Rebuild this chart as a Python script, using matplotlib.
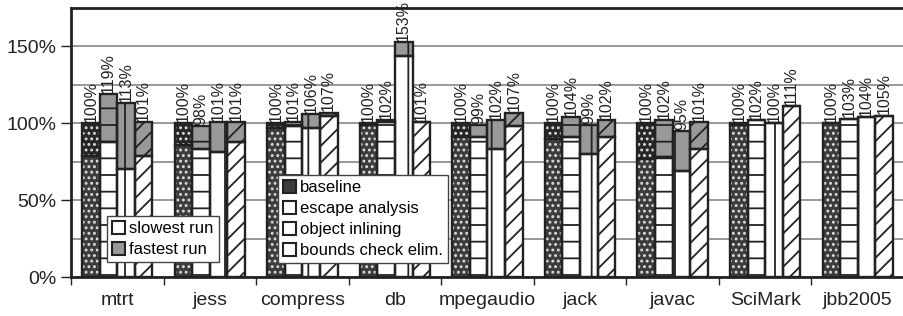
import numpy as np
import matplotlib
matplotlib.use("Agg")
import matplotlib.pyplot as plt
from matplotlib.patches import Patch

plt.rcParams['font.family'] = ['Liberation Sans', 'DejaVu Sans']
plt.rcParams['hatch.linewidth'] = 1.3

# данные: категории и значения (в процентах)
categories = ['mtrt', 'jess', 'compress', 'db', 'mpegaudio', 'jack', 'javac', 'SciMark', 'jbb2005']
series_names = ['baseline', 'escape analysis', 'object inlining', 'bounds check elim.']

# самый быстрый прогон (подпись над столбцом)
baseline_fast = [100, 100, 100, 100, 100, 100, 100, 100, 100]
escape_fast = [119, 98, 101, 102, 99, 104, 102, 102, 103]
inlining_fast = [113, 101, 106, 153, 102, 99, 95, 100, 104]
bounds_fast = [101, 101, 107, 101, 107, 102, 101, 111, 105]

# самый медленный прогон
baseline_slow = [79, 86, 97, 99, 91, 90, 77, 99, 100]
escape_slow = [88, 83, 98, 101, 91, 91, 78, 102, 103]
inlining_slow = [70, 81, 97, 144, 83, 80, 69, 100, 104]
bounds_slow = [79, 88, 105, 101, 98, 91, 83, 111, 105]

fast = [baseline_fast, escape_fast, inlining_fast, bounds_fast]
slow = [baseline_slow, escape_slow, inlining_slow, bounds_slow]

# стиль каждой серии: (цвет низа, цвет верха, штриховка, цвет штриховки)
styles = [
    ('#3c3c3c', '#262626', '...', '#dddddd'),
    ('white', '#999999', '-', '#222222'),
    ('white', '#999999', '|', '#222222'),
    ('white', '#999999', '//', '#222222'),
]

fig = plt.figure(figsize=(9.04, 3.16), dpi=100)
ax = fig.add_axes([0.0785, 0.1234, 0.9215, 0.8513])

x = np.arange(len(categories))
w = 0.19
offsets = (np.arange(4) - 1.5) * w

for i in range(4):
    lo, hi, hatch, hc = styles[i]
    xs = x + offsets[i]
    s = np.array(slow[i])
    f = np.array(fast[i])
    top = np.maximum(f - s, 0)
    # нижняя часть (медленный прогон) и верхняя (быстрый)
    ax.bar(xs, s, w, color=lo, hatch=hatch, edgecolor=hc, linewidth=0, zorder=2)
    ax.bar(xs, top, w, bottom=s, color=hi, hatch=hatch, edgecolor=hc, linewidth=0, zorder=2)
    # контуры
    ax.bar(xs, s, w, fill=False, edgecolor='#222222', linewidth=1.7, zorder=3)
    ax.bar(xs, top, w, bottom=s, fill=False, edgecolor='#222222', linewidth=1.7, zorder=3)
    for xi, fi in zip(xs, f):
        ax.text(xi, fi + 0.8, f'{fi}%', rotation=90, ha='center', va='bottom',
                fontsize=11.5, color='#222222', zorder=4)

ax.set_xlim(-0.5, len(categories) - 0.5)
ax.set_ylim(0, 175)
ax.set_yticks([0, 50, 100, 150])
ax.set_yticklabels(['0%', '50%', '100%', '150%'])
ax.set_yticks([25, 75, 125, 175], minor=True)
ax.yaxis.grid(True, which='both', color='#888888', linewidth=1.2, zorder=0)
ax.set_axisbelow(True)

ax.set_xticks(x)
ax.set_xticklabels(categories)
ax.set_xticks(np.arange(len(categories) + 1) - 0.5, minor=True)
ax.tick_params(axis='x', which='major', length=0, pad=11, labelsize=14, colors='#222222')
ax.tick_params(axis='x', which='minor', length=6, width=1, color='#222222')
ax.tick_params(axis='y', which='major', length=7, width=1, labelsize=14, colors='#222222')
ax.tick_params(axis='y', which='minor', length=0)

for side in ['left', 'top', 'bottom']:
    ax.spines[side].set_linewidth(2)
    ax.spines[side].set_color('#222222')
ax.spines['right'].set_visible(False)

legend_kw = dict(loc='lower left', borderaxespad=0, fontsize=12, fancybox=False,
                 framealpha=1, edgecolor='#444444', handlelength=0.8, handleheight=0.8,
                 handletextpad=0.25, labelspacing=0.35, borderpad=0.3)

# легенда: медленный/быстрый прогон
h1 = [Patch(facecolor='white', edgecolor='#222222', linewidth=1.5, label='slowest run'),
      Patch(facecolor='#999999', edgecolor='#222222', linewidth=1.5, label='fastest run')]
leg1 = ax.legend(handles=h1, bbox_to_anchor=(0.043, 0.056), **legend_kw)
leg1.get_frame().set_linewidth(1)
leg1.set_zorder(5)
ax.add_artist(leg1)

# легенда: серии
h2 = [Patch(facecolor=lo, edgecolor='#222222', linewidth=1.5, label=name)
      for name, (lo, hi, hatch, hc) in zip(series_names, styles)]
leg2 = ax.legend(handles=h2, bbox_to_anchor=(0.248, 0.052), **legend_kw)
leg2.get_frame().set_linewidth(1)
leg2.set_zorder(5)

plt.savefig('out.png', dpi=100)
